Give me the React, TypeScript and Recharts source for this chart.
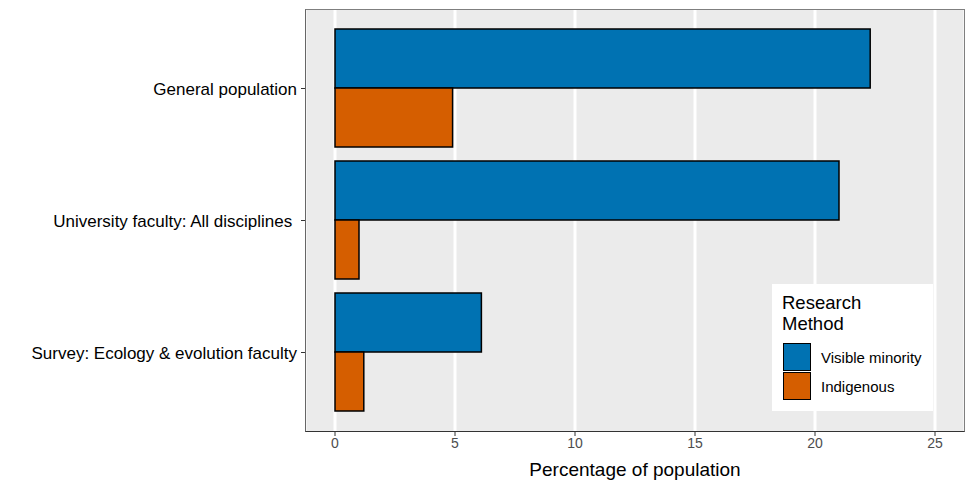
import React from 'react'
import { BarChart, Bar, XAxis, YAxis, CartesianGrid } from 'recharts'

const categories = [
  'General population',
  'University faculty: All disciplines\u00A0',
  'Survey: Ecology & evolution faculty',
]
const visibleMinority = [22.3, 21.0, 6.1]
const indigenous = [4.9, 1.0, 1.2]
const xTicks = [0, 5, 10, 15, 20, 25]

const seriesNames = ['Visible minority', 'Indigenous']
const seriesColors = ['#0072B2', '#D55E00']

const data = categories.map((name, i) => ({
  name,
  visible: visibleMinority[i],
  indigenous: indigenous[i],
}))

const font = '"Liberation Sans", Arial, sans-serif'

function LegendBox() {
  return (
    <div
      style={{
        position: 'absolute',
        left: 772,
        top: 284,
        width: 161,
        height: 127,
        background: '#fff',
        fontFamily: font,
      }}
    >
      <div style={{ position: 'absolute', left: 10, top: 8, fontSize: 18.5, lineHeight: '21px', color: '#000' }}>
        Research
        <br />
        Method
      </div>
      {seriesNames.map((s, i) => (
        <div key={s} style={{ position: 'absolute', left: 11, top: 59 + i * 29, display: 'flex', alignItems: 'center' }}>
          <span
            style={{
              width: 28,
              height: 28,
              boxSizing: 'border-box',
              background: seriesColors[i],
              border: '1.5px solid #000',
              display: 'inline-block',
            }}
          />
          <span style={{ marginLeft: 10, fontSize: 15, color: '#000' }}>{s}</span>
        </div>
      ))}
    </div>
  )
}

export default function App() {
  return (
    <div style={{ position: 'absolute', left: 0, top: 0, width: 974, height: 487, background: '#fff', fontFamily: font }}>
      <BarChart
        width={974}
        height={487}
        data={data}
        layout="vertical"
        margin={{ top: 9, right: 9, bottom: 0, left: 0 }}
        barCategoryGap="5%"
        barGap={0}
      >
        <CartesianGrid horizontal={false} stroke="#fff" strokeWidth={3} fill="#EBEBEB" />
        <XAxis
          type="number"
          domain={[-1.25, 26.25]}
          ticks={xTicks}
          allowDataOverflow
          height={55}
          stroke="#333"
          tickSize={4}
          tick={{ fill: '#4D4D4D', fontSize: 14, fontFamily: font }}
          axisLine={false}
          label={{ value: 'Percentage of population', position: 'insideBottom', offset: 11, fill: '#000', fontSize: 19, fontFamily: font }}
        />
        <YAxis
          type="category"
          dataKey="name"
          width={305}
          padding={{ top: 13.5, bottom: 13.5 }}
          axisLine={false}
          stroke="#333"
          tickSize={4}
          tick={{ fill: '#000', fontSize: 17, fontFamily: font, dx: -2 }}
        />
        <Bar dataKey="visible" name={seriesNames[0]} fill={seriesColors[0]} stroke="#000" strokeWidth={1.5} isAnimationActive={false} />
        <Bar dataKey="indigenous" name={seriesNames[1]} fill={seriesColors[1]} stroke="#000" strokeWidth={1.5} isAnimationActive={false} />
      </BarChart>
      <div
        style={{
          position: 'absolute',
          left: 305,
          top: 9,
          width: 660,
          height: 423,
          boxSizing: 'border-box',
          border: '1px solid #7F7F7F',
          borderLeft: '1.5px solid #666',
          borderBottom: '1.5px solid #333',
          pointerEvents: 'none',
        }}
      />
      <LegendBox />
    </div>
  )
}
